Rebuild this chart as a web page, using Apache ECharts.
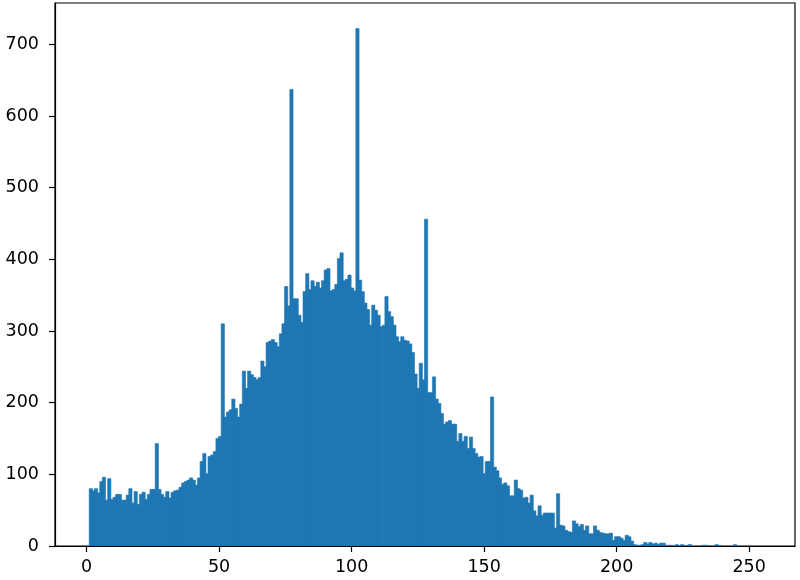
<!DOCTYPE html>
<html>
<head>
<meta charset="utf-8">
<script src="https://cdn.jsdelivr.net/npm/echarts@6/dist/echarts.min.js"></script>
<style>
  html, body { margin: 0; padding: 0; background: #fff; }
  #chart { width: 800px; height: 580px; }
</style>
</head>
<body>
<div id="chart"></div>
<script>
// Histogram definition: 256 equal bins spanning 0..255
const binStart = 0;
const binEnd = 255;
const numBins = 256;

// Counts per bin
const counts = [
  0, 80, 77, 80, 74, 90, 96, 64, 94, 65,
  68, 72, 72, 64, 64, 71, 80, 60, 76, 58,
  72, 75, 65, 72, 79, 79, 143, 79, 72, 68,
  76, 67, 75, 77, 78, 82, 88, 90, 92, 95,
  92, 85, 95, 118, 129, 101, 125, 127, 132, 150,
  153, 310, 180, 187, 190, 205, 192, 180, 198, 244,
  220, 244, 239, 235, 232, 235, 258, 250, 284, 286,
  288, 284, 278, 296, 310, 362, 335, 637, 345, 345,
  322, 312, 355, 380, 358, 370, 362, 368, 360, 370,
  385, 387, 356, 358, 365, 401, 409, 370, 372, 378,
  360, 356, 722, 371, 355, 339, 330, 308, 336, 329,
  322, 306, 308, 348, 327, 320, 308, 292, 285, 292,
  287, 286, 282, 270, 240, 220, 255, 232, 456, 214,
  214, 236, 205, 199, 185, 170, 173, 175, 170, 170,
  146, 157, 146, 153, 136, 152, 136, 129, 124, 125,
  101, 118, 118, 208, 110, 105, 95, 86, 88, 84,
  70, 70, 92, 80, 78, 67, 68, 60, 71, 49,
  42, 56, 43, 46, 46, 46, 46, 25, 73, 29,
  28, 22, 20, 19, 35, 31, 27, 30, 22, 28,
  17, 17, 28, 22, 19, 18, 17, 17, 18, 8,
  13, 13, 11, 8, 15, 13, 7, 2, 1, 1,
  2, 5, 3, 5, 3, 4, 2, 4, 4, 1,
  1, 1, 0, 2, 0, 2, 0, 1, 2, 0,
  0, 0, 0, 1, 1, 0, 0, 0, 2, 1,
  0, 0, 0, 0, 0, 2, 0, 0, 0, 0,
  0, 0, 0, 0, 0, 0
];

// Tick labels
const xTicks = [0, 50, 100, 150, 200, 250];
const yTicks = [0, 100, 200, 300, 400, 500, 600, 700];

const binWidth = (binEnd - binStart) / numBins;
const barData = counts.map((c, i) => [binStart + i * binWidth, binStart + (i + 1) * binWidth, c]);

const BAR = '#1f77b4';
const FONT = 'DejaVu Sans';

const chart = echarts.init(document.getElementById('chart'), null, { renderer: 'canvas' });
chart.setOption({
  animation: false,
  backgroundColor: '#ffffff',
  grid: {
    left: 55, right: 5, top: 3, bottom: 34,
    show: true, borderColor: '#000', borderWidth: 1.2, backgroundColor: 'transparent'
  },
  xAxis: {
    type: 'value',
    min: -11.9,
    max: 267.3,
    z: 10,
    axisLine: { show: true, onZero: false, lineStyle: { color: '#000', width: 1.2 } },
    axisTick: { show: true, inside: false, length: 6, customValues: xTicks, lineStyle: { color: '#000', width: 1.2 } },
    axisLabel: { customValues: xTicks, margin: 12, color: '#000', fontFamily: FONT, fontSize: 17.5 },
    splitLine: { show: false }
  },
  yAxis: {
    type: 'value',
    min: 0,
    max: 757.6,
    z: 10,
    axisLine: { show: true, onZero: false, lineStyle: { color: '#000', width: 1.2 } },
    axisTick: { show: true, inside: false, length: 6, customValues: yTicks, lineStyle: { color: '#000', width: 1.2 } },
    axisLabel: { customValues: yTicks, margin: 16, color: '#000', fontFamily: FONT, fontSize: 17.5 },
    splitLine: { show: false }
  },
  series: [{
    type: 'custom',
    clip: true,
    encode: { x: [0, 1], y: 2 },
    data: barData,
    renderItem: function (params, api) {
      const v = api.value(2);
      if (!v) return null;
      const p0 = api.coord([api.value(0), v]);
      const p1 = api.coord([api.value(1), 0]);
      return {
        type: 'rect',
        shape: { x: p0[0], y: p0[1], width: p1[0] - p0[0] + 0.6, height: p1[1] - p0[1] },
        style: { fill: BAR, stroke: BAR, lineWidth: 0.6 }
      };
    }
  }]
});
</script>
</body>
</html>
